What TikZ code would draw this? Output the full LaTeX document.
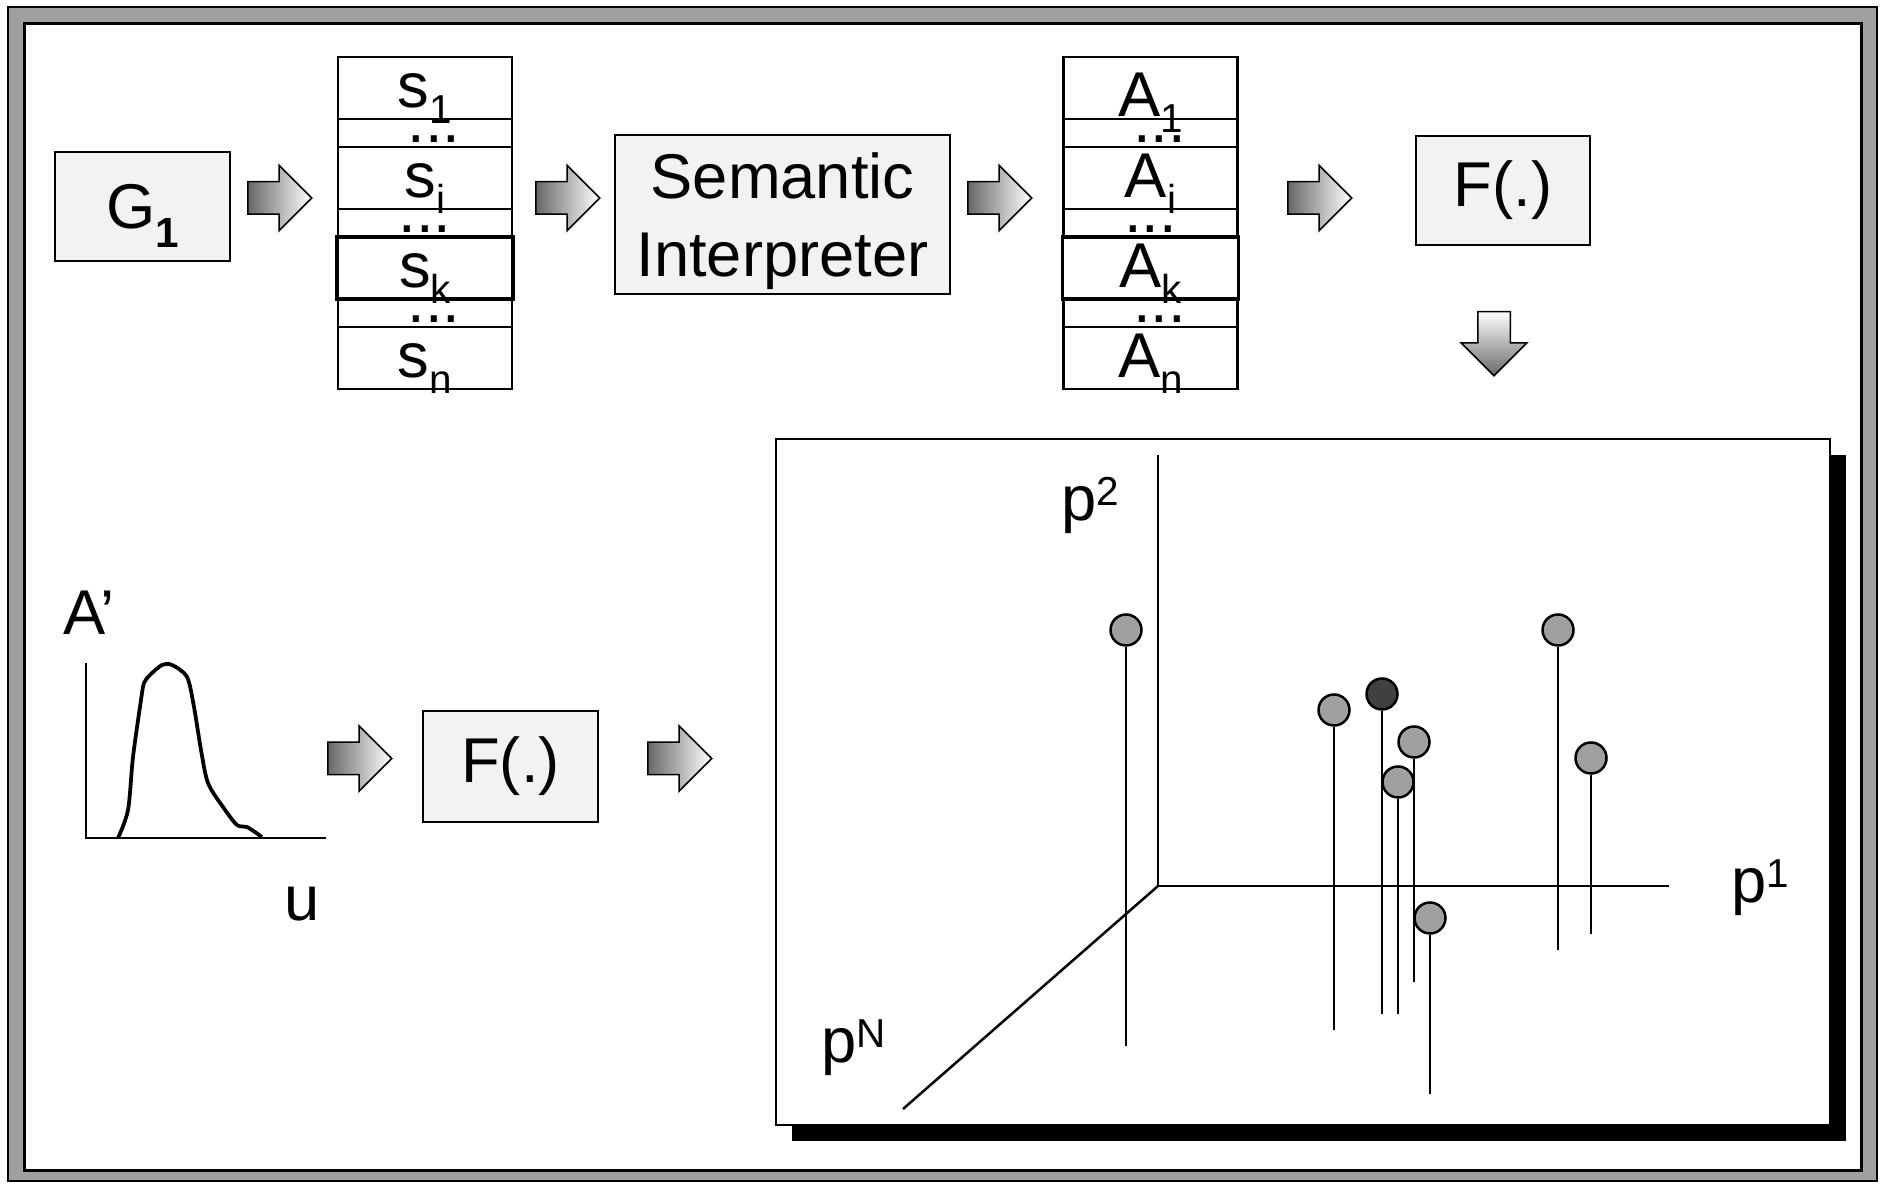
\documentclass[tikz,border=0pt]{standalone}
\usepackage{fontspec}
\setmainfont{Liberation Sans}
\usetikzlibrary{positioning,shapes.arrows}
\definecolor{boxgray}{HTML}{F2F2F2}
\definecolor{framegray}{HTML}{A0A0A0}
\definecolor{ballgray}{HTML}{A0A0A0}
\definecolor{balldark}{HTML}{404040}
\definecolor{arrowdark}{HTML}{686868}
\newcommand{\bigtext}{\fontsize{36}{44}\selectfont}
\newcommand{\lowidx}[1]{\raisebox{-3.2mm}{\fontsize{23}{23}\selectfont #1}}
\newcommand{\highidx}[1]{\raisebox{3.1mm}{\fontsize{23}{23}\selectfont #1}}
\tikzset{
  box/.style={draw, line width=0.5mm, fill=boxgray, font=\bigtext, inner sep=0pt, align=center},
  cell/.style={draw, line width=0.5mm, inner sep=0pt, outer sep=0pt, font=\bigtext,
               minimum width=34.8mm, minimum height=12.4mm, text height=10.2mm, text depth=2.2mm},
  gapcell/.style={cell, minimum height=5.6mm, text height=4.8mm, text depth=0.8mm},
  rarrow/.style={single arrow, draw, line width=0.3mm, left color=arrowdark, right color=white,
                 single arrow tip angle=90, single arrow head extend=3.3mm,
                 inner xsep=0pt, inner ysep=3.1mm, minimum width=12.4mm, minimum height=12.8mm,
                 anchor=tail},
  darrow/.style={rarrow, rotate=-90, top color=white, bottom color=arrowdark},
  axis/.style={line width=0.5mm},
  stem/.style={line width=0.4mm},
  ball/.style={circle, draw, line width=0.5mm, fill=ballgray, minimum size=6.2mm, inner sep=0pt},
  label/.style={anchor=base west, inner sep=0pt, font=\bigtext}
}

\begin{document}
\begin{tikzpicture}[x=0.2mm, y=0.2mm, node distance=0pt]
  \useasboundingbox (0,0) rectangle (1886,1185);
  % outer frame
  \draw[fill=framegray, line width=0.3mm] (8,4) rectangle (1877,1178);
  \draw[fill=white, line width=0.6mm] (24,15) rectangle (1861,1161);

  % top row
  \node[box, minimum width=35mm, minimum height=21.8mm, text height=9mm, text depth=0pt] (g)
    at (142.5,978.5) {G\raisebox{-3.8mm}{\fontsize{24}{24}\selectfont\bfseries 1}};
  \node[rarrow] (arr1) at (247,987) {};

  \node[cell] (sym1) at (425,1097) {s\lowidx{1}};
  \node[gapcell, below=of sym1] (symdots1) {\hspace*{3.6mm}...};
  \node[cell, below=of symdots1] (symi) {s\lowidx{i}};
  \node[gapcell, below=of symi] (symdots2) {...};
  \node[cell, below=of symdots2, line width=0.7mm, minimum width=35.2mm] (symk) {s\lowidx{k}};
  \node[gapcell, below=of symk] (symdots3) {\hspace*{3.6mm}...};
  \node[cell, below=of symdots3] (symn) {s\lowidx{n}};

  \node[rarrow] (arr2) at (535,987) {};
  \node[box, minimum width=67mm, minimum height=31.8mm, text depth=0pt] (interp)
    at (782.5,970.5) {Semantic\\Interpreter};
  \node[rarrow] (arr3) at (967,987) {};

  \node[cell, text height=12mm, text depth=0.4mm] (att1) at (1150.5,1097) {A\lowidx{1}};
  \node[gapcell, below=of att1] (attdots1) {\hspace*{3.6mm}...};
  \node[cell, below=of attdots1] (atti) {A\lowidx{i}};
  \node[gapcell, below=of atti] (attdots2) {...};
  \node[cell, below=of attdots2, line width=0.7mm, minimum width=35.2mm] (attk) {A\lowidx{k}};
  \node[gapcell, below=of attk] (attdots3) {\hspace*{3.6mm}...};
  \node[cell, below=of attdots3] (attn) {A\lowidx{n}};

  \node[rarrow] (arr4) at (1287,987) {};
  \node[box, minimum width=34.8mm, minimum height=21.8mm] (ftop) at (1503,994.5) {F(.)};
  \node[darrow] (arrdown) at (1494,874) {};

  % distribution sketch
  \node[label] (aprime) at (63,550) {A’};
  \draw[line width=0.4mm] (86,522) -- (86,347) -- (326,347);
  \draw[line width=0.75mm, line join=round] plot[smooth, tension=0.5] coordinates {
    (118,347) (128,375) (133,428) (141,485) (144,502) (150,510) (162,520) (172,520)
    (187,508) (194,478) (201,435) (208,402) (223,378) (237,360) (247,358) (262,348)};
  \node[label] (ulabel) at (284,264) {u};
  \node[rarrow] (arr5) at (327,426.5) {};
  \node[box, minimum width=35mm, minimum height=22.2mm] (fbot) at (510.5,418.5) {F(.)};
  \node[rarrow] (arr6) at (647,426.5) {};

  % feature space
  \fill (792,44) rectangle (1846,730);
  \draw[fill=white, line width=0.4mm] (776,60) rectangle (1830,746);
  \coordinate (origin) at (1158,299);
  \draw[axis] (1158,730) -- (origin) -- (1669,299);
  \draw[axis] (origin) -- (903,76);
  \node[label] (p2) at (1061,664) {p\highidx{2}};
  \node[label] (p1) at (1731,282) {p\highidx{1}};
  \node[label] (pN) at (821,122) {p\highidx{N}};

  \foreach \x/\y/\b/\c [count=\n] in {1126/555/139/ballgray, 1558/555/235/ballgray,
      1334/475/155/ballgray, 1382/491/171/balldark, 1414/443/203/ballgray,
      1398/403/171/ballgray, 1591/427/251/ballgray, 1430/267/91/ballgray} {
    \node[ball, fill=\c] (pt\n) at (\x,\y) {};
    \draw[stem] (pt\n.south) -- (\x,\b);
  }
\end{tikzpicture}
\end{document}
